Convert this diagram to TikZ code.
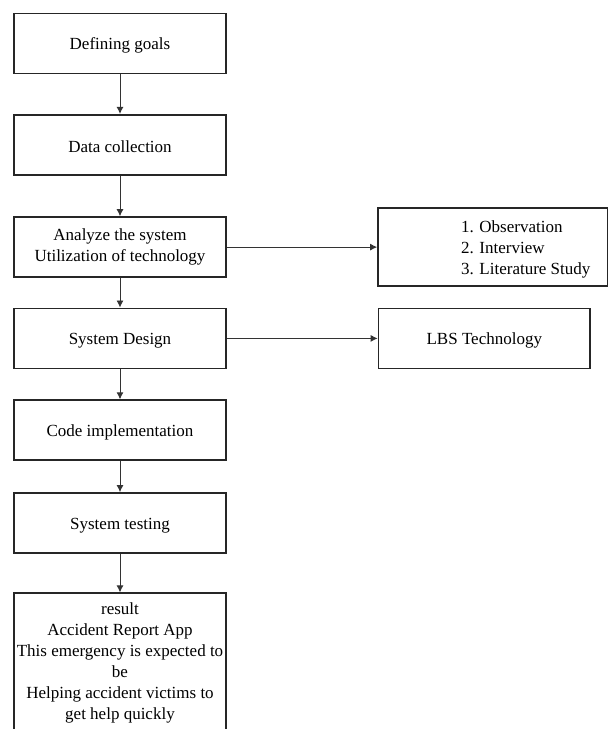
\documentclass[tikz,border=0pt]{standalone}
\usepackage{fontspec}
\setmainfont{Liberation Serif}
\usetikzlibrary{positioning,arrows.meta}
\tikzset{
block/.style={
draw=black!85,
line width=1.8pt,
minimum width=212.5pt,minimum height=60pt,inner sep=2pt,align=center,
execute at begin node={\rule{0pt}{16pt}}},
line/.style={-{Latex[length=7pt,width=7pt]},line width=0.9pt,draw=black!80},
font={\fontsize{17pt}{21pt}\selectfont}
}
\begin{document}
\begin{tikzpicture}[x=1pt,y=-1pt]
  \useasboundingbox (0,0) rectangle (609,729);
  \clip (0,0) rectangle (609,729);
  \node[block] (goals) at (120,43.5) {Defining goals};
  \node[block, below=39.5pt of goals] (collect) {Data collection};
  \node[block, below=40.5pt of collect] (analyze) {Analyze the system\\Utilization of technology};
  \node[block, below=29.5pt of analyze] (design) {System Design};
  \node[block, below=30pt of design] (code) {Code implementation};
  \node[block, below=31pt of code] (testing) {System testing};
  \node[block, below=38.5pt of testing, minimum height=140pt] (result) {result\\Accident Report App\\This emergency is expected to\\be\\Helping accident victims to\\get help quickly};
  % side boxes
  \node[block, right=150pt of analyze, minimum width=229.5pt, minimum height=78.5pt, text width=225.5pt, align=flush left] (methods) {\hspace*{81pt}1. Observation\\\hspace*{81pt}2. Interview\\\hspace*{81pt}3. Literature Study};
  \node[block, right=150.5pt of design, minimum width=211.5pt] (lbs) {LBS Technology};
  \draw[line] (goals)-- (collect);
  \draw[line] (collect)-- (analyze);
  \draw[line] (analyze)-- (design);
  \draw[line] (design)-- (code);
  \draw[line] (code)-- (testing);
  \draw[line] (testing)-- (result);
  \draw[line] (analyze)-- (methods);
  \draw[line] (design)-- (lbs);
\end{tikzpicture}
\end{document}
